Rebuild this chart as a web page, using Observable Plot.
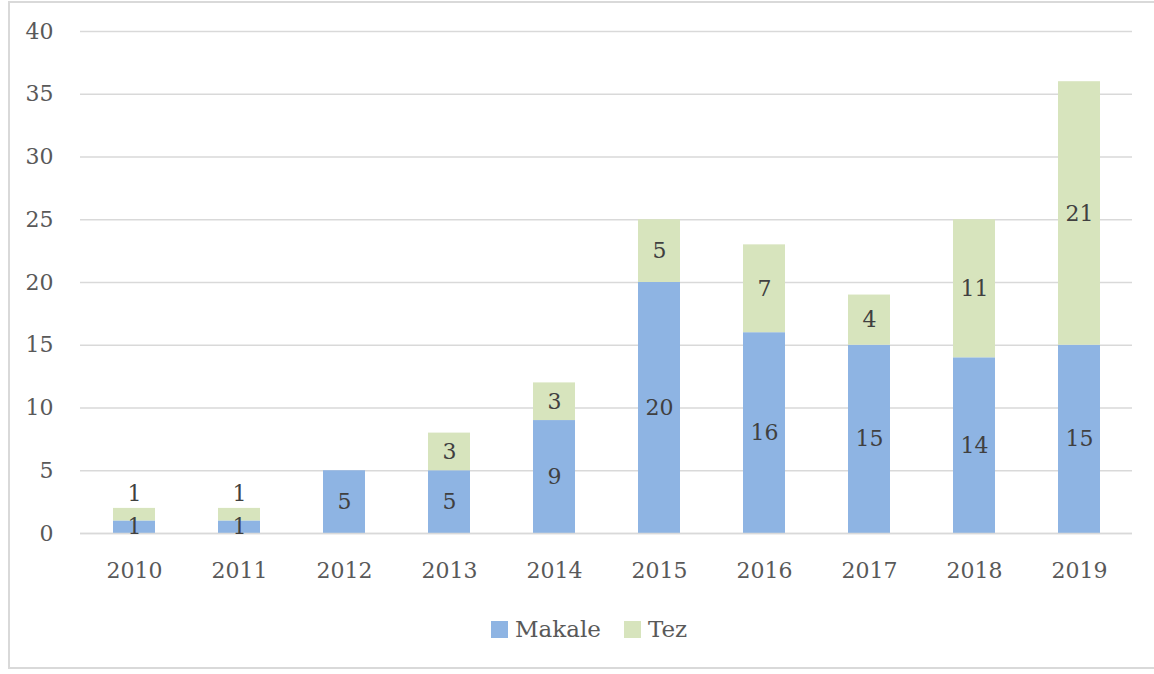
<!DOCTYPE html>
<html>
<head>
<meta charset="utf-8">
<script src="https://cdn.jsdelivr.net/npm/d3@7"></script>
<script src="https://cdn.jsdelivr.net/npm/@observablehq/plot@0.6"></script>
<style>
  html, body { margin: 0; padding: 0; background: #fff; }
  body { width: 1154px; height: 674px; position: relative; overflow: hidden; font-family: "DejaVu Serif", "Liberation Serif", serif; }
  #frame { position: absolute; left: 8px; top: 1px; width: 1160px; height: 668px; border: 2px solid #d9d9d9; box-sizing: border-box; }
  #chart { position: absolute; left: 0; top: 0; }
  #legend { position: absolute; left: 491px; top: 616px; display: flex; align-items: center; font-size: 23px; color: #595959; }
  .sw { display: inline-block; width: 17px; height: 17px; margin-right: 7px; }
  .item { display: flex; align-items: center; margin-right: 23px; }
</style>
</head>
<body>
<div id="frame"></div>
<div id="chart"></div>
<div id="legend"></div>
<script>
const years = ["2010","2011","2012","2013","2014","2015","2016","2017","2018","2019"];
const makale = [1, 1, 5, 5, 9, 20, 16, 15, 14, 15];
const tez = [1, 1, 0, 3, 3, 5, 7, 4, 11, 21];
const seriesNames = ["Makale", "Tez"];
const seriesColors = ["#8eb4e3", "#d7e4bd"];
const yTicks = [0, 5, 10, 15, 20, 25, 30, 35, 40];

const rows = [];
years.forEach((yr, i) => {
  const m = makale[i], t = tez[i];
  rows.push({year: yr, series: "Makale", value: m, y1: 0, y2: m});
  rows.push({year: yr, series: "Tez", value: t, y1: m, y2: m + t});
});
rows.forEach(d => d.mid = (d.y1 + d.y2) / 2);
const labelled = rows.filter(d => d.value > 0);
const inside = labelled.filter(d => !(d.series === "Tez" && d.value < 2));
const above = labelled.filter(d => d.series === "Tez" && d.value < 2);

const FONT = "'DejaVu Serif', 'Liberation Serif', serif";
const plot = Plot.plot({
  width: 1154,
  height: 600,
  marginLeft: 80,
  marginRight: 22,
  marginTop: 31,
  marginBottom: 67,
  style: {fontFamily: FONT, fontSize: "22px", background: "transparent"},
  x: {domain: years, paddingInner: 0.6, paddingOuter: 0.3, label: null, tickSize: 0, tickPadding: 29},
  y: {domain: [0, 40], ticks: yTicks, label: null, tickSize: 0, tickPadding: 27},
  color: {domain: seriesNames, range: seriesColors},
  marks: [
    Plot.gridY(yTicks, {stroke: "#d9d9d9", strokeOpacity: 1, strokeWidth: 1.5}),
    Plot.barY(rows.filter(d => d.value > 0), {x: "year", y1: "y1", y2: "y2", fill: "series"}),
    Plot.ruleY([0], {stroke: "#d9d9d9", strokeWidth: 1.5}),
    Plot.axisX({tickSize: 0, tickPadding: 29, fill: "#595959", fontSize: 22, fontFamily: FONT}),
    Plot.axisY(yTicks, {tickSize: 0, tickPadding: 27, fill: "#595959", fontSize: 22, fontFamily: FONT}),
    Plot.text(inside, {x: "year", y: "mid", text: d => String(d.value), fill: "#404040", fontSize: 22, fontFamily: FONT}),
    Plot.text(above, {x: "year", y: "mid", text: d => String(d.value), fill: "#404040", fontSize: 22, fontFamily: FONT, dy: -21})
  ]
});
document.getElementById("chart").appendChild(plot);

const legend = document.getElementById("legend");
seriesNames.forEach((name, i) => {
  const item = document.createElement("div");
  item.className = "item";
  const sw = document.createElement("span");
  sw.className = "sw";
  sw.style.background = seriesColors[i];
  const lab = document.createElement("span");
  lab.textContent = name;
  item.appendChild(sw);
  item.appendChild(lab);
  legend.appendChild(item);
});
</script>
</body>
</html>
